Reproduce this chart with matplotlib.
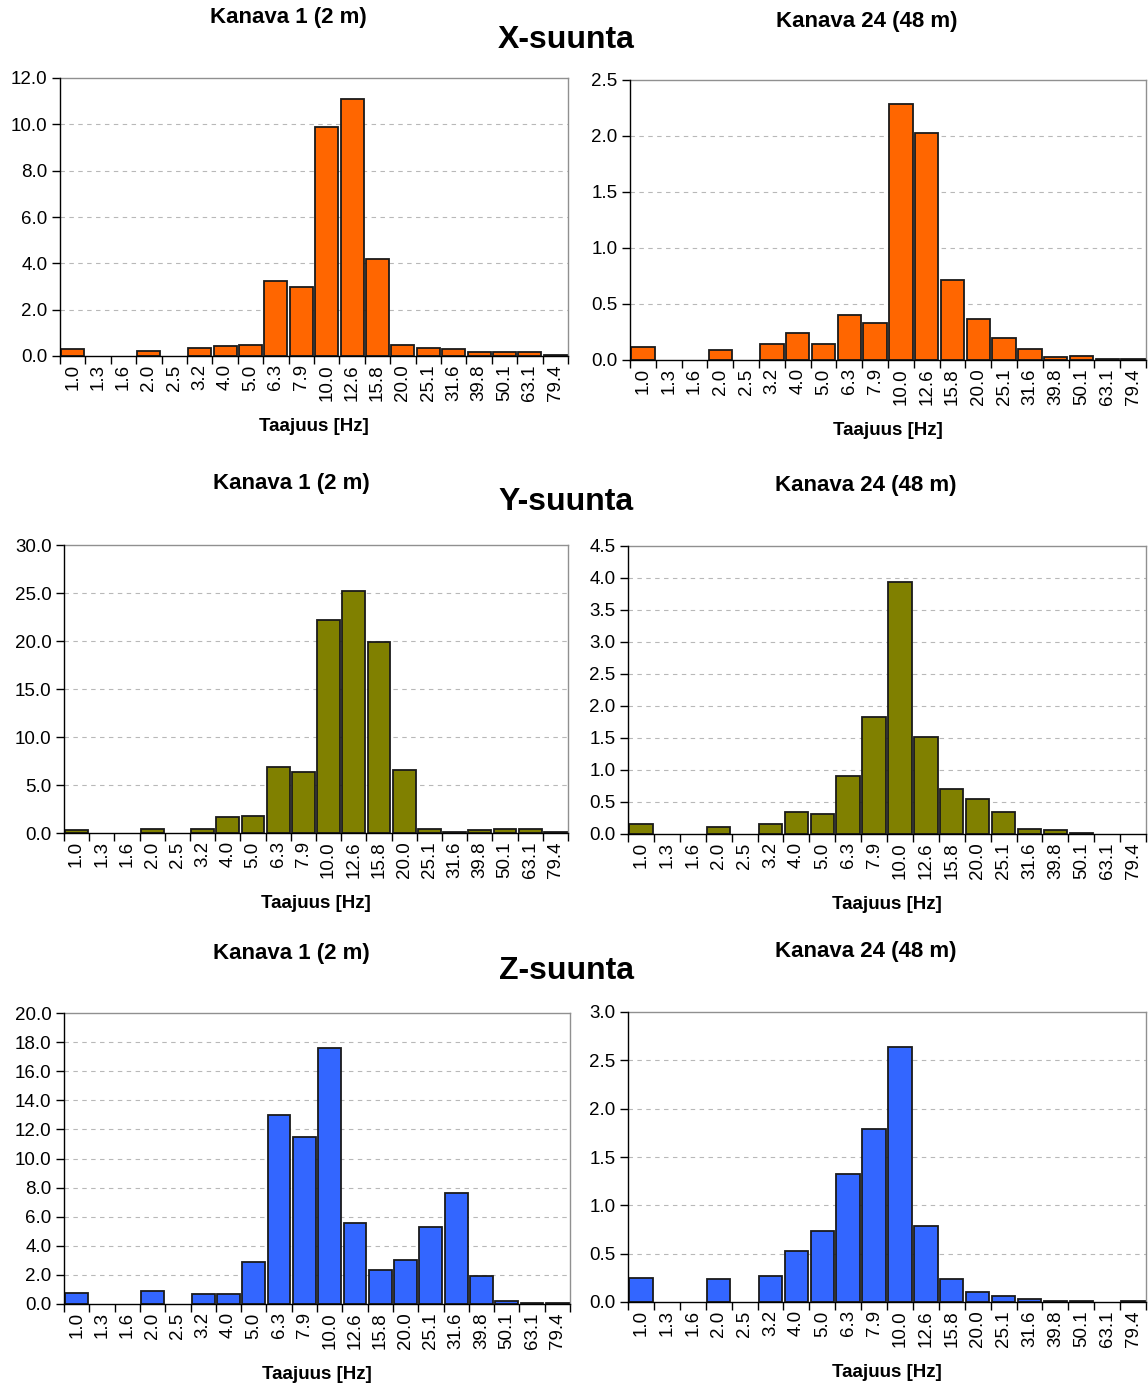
import matplotlib
matplotlib.use("Agg")
import matplotlib.pyplot as plt
import numpy as np
from matplotlib.ticker import FixedLocator, FormatStrFormatter

plt.rcParams['font.family'] = ['Liberation Sans', 'DejaVu Sans']

categories = ["1.0", "1.3", "1.6", "2.0", "2.5", "3.2", "4.0", "5.0", "6.3", "7.9",
              "10.0", "12.6", "15.8", "20.0", "25.1", "31.6", "39.8", "50.1", "63.1", "79.4"]

x_ch1 = [0.30, 0, 0, 0.23, 0, 0.36, 0.42, 0.47, 3.22, 2.97,
         9.87, 11.08, 4.20, 0.47, 0.36, 0.29, 0.17, 0.17, 0.17, 0.04]
x_ch24 = [0.12, 0, 0, 0.09, 0, 0.14, 0.24, 0.14, 0.40, 0.33,
          2.29, 2.03, 0.71, 0.37, 0.20, 0.10, 0.03, 0.04, 0.01, 0.01]
y_ch1 = [0.28, 0, 0, 0.42, 0, 0.42, 1.63, 1.76, 6.92, 6.33,
         22.2, 25.16, 19.86, 6.60, 0.42, 0.14, 0.28, 0.42, 0.42, 0.14]
y_ch24 = [0.15, 0, 0, 0.11, 0, 0.15, 0.35, 0.31, 0.90, 1.83,
          3.93, 1.52, 0.71, 0.55, 0.35, 0.08, 0.06, 0.02, 0, 0]
z_ch1 = [0.76, 0, 0, 0.87, 0, 0.67, 0.67, 2.92, 12.99, 11.45,
         17.59, 5.56, 2.34, 3.03, 5.26, 7.63, 1.95, 0.18, 0.09, 0.09]
z_ch24 = [0.25, 0, 0, 0.24, 0, 0.27, 0.53, 0.73, 1.32, 1.79,
          2.64, 0.79, 0.24, 0.10, 0.06, 0.03, 0.01, 0.01, 0, 0.01]

row_titles = ["X-suunta", "Y-suunta", "Z-suunta"]
col_titles = ["Kanava 1 (2 m)", "Kanava 24 (48 m)"]
xlabel = "Taajuus [Hz]"
colors = ["#FF6600", "#808000", "#3366FF"]

W, H = 1148, 1383
fig = plt.figure(figsize=(W / 100, H / 100), dpi=100)

def ax_px(l, t, r, b):
    return fig.add_axes([l / W, 1 - b / H, (r - l) / W, (b - t) / H])

# pixel boxes (left, top, right, bottom)
boxes = [
    [(60, 78, 568, 356), (630, 80, 1146, 360)],
    [(64, 545, 568, 833), (628, 546, 1146, 834)],
    [(64, 1013, 570, 1304), (628, 1012, 1146, 1302)],
]
data = [[x_ch1, x_ch24], [y_ch1, y_ch24], [z_ch1, z_ch24]]
ylims = [[(12, 2), (2.5, 0.5)], [(30, 5), (4.5, 0.5)], [(20, 2), (3.0, 0.5)]]
col_title_pos = [[(288, 18), (867, 22)], [(291, 484), (866, 486)], [(291, 953), (866, 951)]]
row_title_pos = [(566, 40), (566, 502), (566, 971)]

xpos = np.arange(len(categories))
for r in range(3):
    for c in range(2):
        ax = ax_px(*boxes[r][c])
        ymax, step = ylims[r][c]
        vals = data[r][c]
        lws = [0 if v == 0 else 1.3 for v in vals]
        ax.bar(xpos, vals, width=0.9, color=colors[r], edgecolor="#1a1a1a",
               linewidth=lws, zorder=3)
        ax.set_xlim(-0.5, len(categories) - 0.5)
        ax.set_ylim(0, ymax)
        yt = np.arange(0, ymax + step / 2, step)
        ax.set_yticks(yt)
        ax.yaxis.set_major_formatter(FormatStrFormatter("%.1f"))
        for v in yt[1:-1]:
            ax.axhline(v, color="#b8b8b8", linestyle=(0, (4, 4)), linewidth=0.8, zorder=1)
        ax.set_xticks(xpos)
        ax.set_xticklabels(categories, rotation=90, fontsize=13.5)
        ax.xaxis.set_minor_locator(FixedLocator(np.arange(-0.5, len(categories), 1.0)))
        ax.tick_params(axis="x", which="major", length=0, pad=6)
        ax.tick_params(axis="x", which="minor", length=6, width=1, color="black", direction="out")
        ax.tick_params(axis="y", length=6, width=1, direction="out", labelsize=13.5, pad=3)
        for s in ["top", "right"]:
            ax.spines[s].set_color("#909090")
            ax.spines[s].set_linewidth(1.0)
        for s in ["left", "bottom"]:
            ax.spines[s].set_color("black")
            ax.spines[s].set_linewidth(1.0)
            ax.spines[s].set_zorder(4)
        ax.set_xlabel(xlabel, fontsize=13.5, fontweight="bold", labelpad=12)
        tx, ty = col_title_pos[r][c]
        fig.text(tx / W, 1 - ty / H, col_titles[c], ha="center", va="center",
                 fontsize=16, fontweight="bold")
    rx, ry = row_title_pos[r]
    fig.text(rx / W, 1 - ry / H, row_titles[r], ha="center", va="center",
             fontsize=23, fontweight="bold")

fig.savefig("out.png", dpi=100)
